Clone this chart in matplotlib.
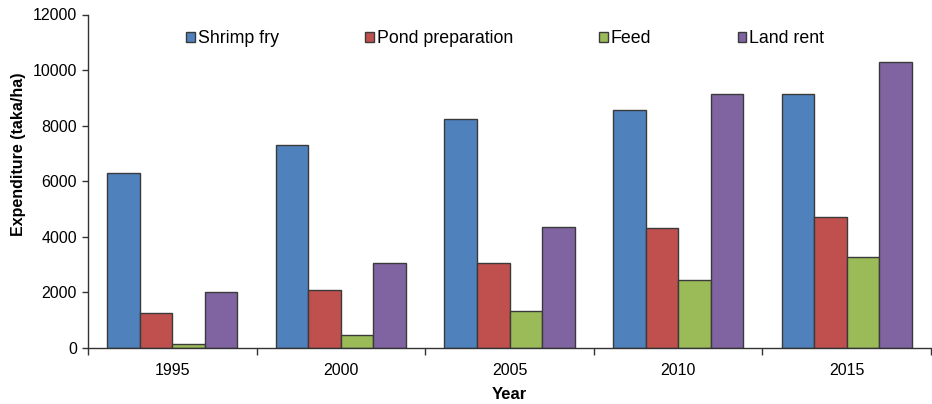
import numpy as np
import matplotlib.pyplot as plt
from matplotlib.ticker import FixedLocator

plt.rcParams['font.family'] = ['Liberation Sans', 'DejaVu Sans']

years = ['1995', '2000', '2005', '2010', '2015']
series_names = ['Shrimp fry', 'Pond preparation', 'Feed', 'Land rent']
shrimp_fry = [6280, 7300, 8230, 8570, 9130]
pond_prep = [1270, 2070, 3050, 4300, 4700]
feed = [130, 460, 1330, 2440, 3270]
land_rent = [2020, 3050, 4340, 9130, 10290]
colors = ['#4F81BD', '#C0504D', '#9BBB59', '#8064A2']

fig = plt.figure(figsize=(9.32, 4.04), dpi=100)
ax = fig.add_axes([88 / 932, 1 - 348 / 404, 843 / 932, 333.5 / 404])

x = np.arange(len(years))
w = 0.193
for i, (vals, name) in enumerate(zip([shrimp_fry, pond_prep, feed, land_rent], series_names)):
    ax.bar(x + (i - 1.5) * w, vals, width=w, color=colors[i],
           edgecolor='#3a3a3a', linewidth=1.0, label=name, zorder=2)

ax.set_xlim(-0.5, len(years) - 0.5)
ax.set_ylim(0, 12000)
ax.set_yticks(np.arange(0, 12001, 2000))
ax.set_xticks(x)
ax.set_xticklabels(years)
ax.xaxis.set_minor_locator(FixedLocator(np.arange(-0.5, len(years), 1.0)))
ax.tick_params(axis='x', which='major', length=0, pad=11, labelsize=11.5)
ax.tick_params(axis='x', which='minor', length=5, width=1, color='#333333')
ax.tick_params(axis='y', length=4, width=1, color='#333333', pad=4, labelsize=11.5)

for side in ['top', 'right']:
    ax.spines[side].set_visible(False)
for side in ['left', 'bottom']:
    ax.spines[side].set_color('#333333')
    ax.spines[side].set_linewidth(1)

ax.set_xlabel('Year', fontsize=12, fontweight='bold')
ax.xaxis.set_label_coords(0.5, -0.117)
ax.set_ylabel('Expenditure (taka/ha)', fontsize=11.5, fontweight='bold')
ax.yaxis.set_label_coords(-0.073, 0.58)

# legend in one row across the top
ax.legend(loc='upper left', bbox_to_anchor=(0.102, 0.99), ncol=4, frameon=False,
          fontsize=12.8, handlelength=0.5, handleheight=0.5, handletextpad=0.15,
          columnspacing=4.85, borderaxespad=0.3)

fig.savefig('out.png', dpi=100)
